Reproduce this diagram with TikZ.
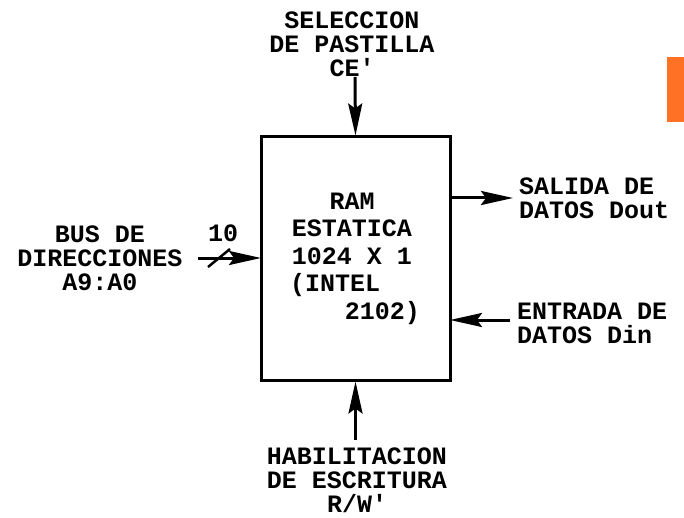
\documentclass[tikz,border=0pt]{standalone}
\usepackage{fontspec}
\setmonofont{Liberation Mono}
\usetikzlibrary{arrows.meta}
\tikzset{
  lbl/.style={font=\fontsize{25}{24}\selectfont\ttfamily\bfseries, inner sep=0pt, align=center},
  arr/.style={line width=3pt, -{Stealth[length=32pt,width=14pt,inset=5pt]}},
  boxst/.style={draw, line width=3pt, minimum width=189pt, minimum height=243pt, inner sep=0pt}
}
\begin{document}
\begin{tikzpicture}[x=1pt,y=-1pt]
\useasboundingbox (0,0) rectangle (684,518);
\fill[white] (0,0) rectangle (684,518);
\fill[orange!70!red!85] (667,57) rectangle (684,122);
\node[boxst] (ram) at (355.5,258.5) {};
% box text
\node[lbl] (t1) at (352,201) {RAM};
\node[lbl] (t2) at (352,228) {ESTATICA};
\node[lbl] (t3) at (352,256) {1024 X 1};
\node[lbl, anchor=west] (t4) at (290,285) {(INTEL};
\node[lbl, anchor=east] (t5) at (420,313) {2102)};
% top
\node[lbl] (sel) at (352,44) {SELECCION\\DE PASTILLA\\CE'};
\coordinate (selend) at (355,77);
\draw[arr] (selend) -- (ram.north);
% bottom
\node[lbl] (hab) at (357,480) {HABILITACION\\DE ESCRITURA\\R/W'};
\coordinate (habend) at (355.5,440);
\draw[arr] (habend) -- (ram.south);
% right out
\node[lbl, align=left, anchor=west] (sal) at (519,198) {SALIDA DE\\DATOS Dout};
\coordinate (salstart) at (450,198);
\draw[arr] (salstart) -- (513,198);
% right in
\node[lbl, align=left, anchor=west] (ent) at (517,323) {ENTRADA DE\\DATOS Din};
\coordinate (entstart) at (510,320);
\coordinate (entend) at (450,320);
\draw[arr] (entstart) -- (entend);
% left bus
\node[lbl] (bus) at (100,258) {BUS DE\\DIRECCIONES\\A9:A0};
\coordinate (busstart) at (198,258);
\coordinate (busend) at (261,258);
\draw[arr] (busstart) -- (busend);
\draw[line width=2.5pt] (208,267) -- (230,249);
\node[lbl] (ten) at (223,233) {10};
\end{tikzpicture}
\end{document}
